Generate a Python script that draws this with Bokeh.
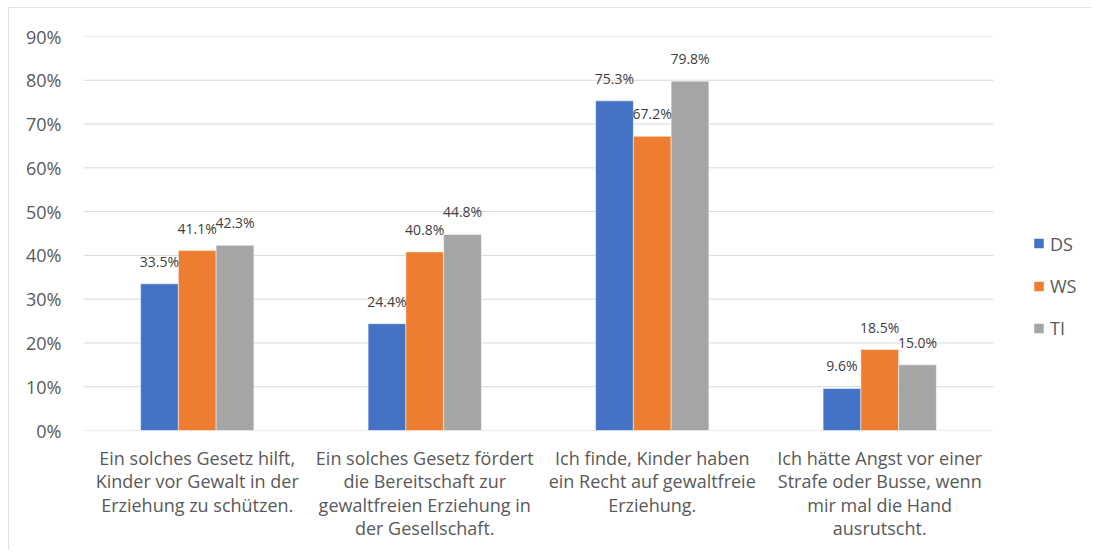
from bokeh.plotting import figure
from bokeh.models import (ColumnDataSource, Range1d, FixedTicker, PrintfTickFormatter, LabelSet)
from bokeh.core.properties import value
from bokeh.embed import file_html
from bokeh.resources import INLINE

categories = [
    "Ein solches Gesetz hilft,\nKinder vor Gewalt in der\nErziehung zu schützen.",
    "Ein solches Gesetz fördert\ndie Bereitschaft zur\ngewaltfreien Erziehung in\nder Gesellschaft.",
    "Ich finde, Kinder haben\nein Recht auf gewaltfreie\nErziehung.",
    "Ich hätte Angst vor einer\nStrafe oder Busse, wenn\nmir mal die Hand\nausrutscht.",
]
series_names = ["DS", "WS", "TI"]
ds = [33.5, 24.4, 75.3, 9.6]
ws = [41.1, 40.8, 67.2, 18.5]
ti = [42.3, 44.8, 79.8, 15.0]
colors = ["#4472C4", "#ED7D31", "#A5A5A5"]
y_ticks = [0, 10, 20, 30, 40, 50, 60, 70, 80, 90]

FONT = "Open Sans"
TXT = "#595959"
n = len(categories)

# layout (pixels)
W, H = 1083, 543
LEFT, TOP, BOTTOM, RIGHT = 75, 29, 120, 5
cat_px = 227.5
frame_w = W - LEFT - RIGHT
x_end = frame_w / cat_px

p = figure(width=W, height=H, output_backend="svg", toolbar_location=None,
           x_range=Range1d(0, x_end), y_range=Range1d(0, 90),
           min_border_left=LEFT, min_border_right=RIGHT, min_border_top=TOP, min_border_bottom=BOTTOM)
p.styles = {"margin-left": "8px", "margin-top": "7px",
            "outline": "1px solid #d9d9d9", "outline-offset": "-1px"}
p.outline_line_color = None
p.xgrid.grid_line_color = None
p.ygrid.grid_line_color = None

# horizontal gridlines limited to the category area
p.segment(x0=[0] * len(y_ticks), x1=[n] * len(y_ticks), y0=y_ticks, y1=y_ticks,
          line_color="#d9d9d9", line_width=1)

bw = 0.166
offsets = [-bw, 0.0, bw]
for name, vals, col, off in zip(series_names, [ds, ws, ti], colors, offsets):
    xs = [i + 0.5 + off for i in range(n)]
    src = ColumnDataSource(dict(x=xs, top=vals, lab=[f"{v:.1f}%" for v in vals]))
    p.vbar(x="x", top="top", width=bw, source=src, fill_color=col, line_color="white", line_width=0.5)
    p.add_layout(LabelSet(x="x", y="top", text="lab", source=src, text_align="center",
                          text_baseline="bottom", y_offset=13, text_font=value(FONT),
                          text_font_size="14px", text_color="#404040"))

# legend (drawn to the right of the categories)
leg_x = n + 0.2
leg_y = [42.7, 32.9, 23.3]
p.scatter(x=[leg_x] * 3, y=leg_y, marker="square", size=9.5, fill_color=colors, line_color=None)
p.text(x=[leg_x] * 3, y=leg_y, text=series_names, x_offset=11, text_baseline="middle",
       text_align="left", text_font=value(FONT), text_font_size="18px", text_color=TXT)

p.yaxis.ticker = FixedTicker(ticks=y_ticks)
p.yaxis.formatter = PrintfTickFormatter(format="%d%%")
p.yaxis.axis_line_color = None
p.yaxis.major_tick_line_color = None
p.yaxis.minor_tick_line_color = None
p.yaxis.major_label_standoff = 16
p.yaxis.major_label_text_font = FONT
p.yaxis.major_label_text_font_size = "18px"
p.yaxis.major_label_text_color = TXT

p.xaxis.ticker = FixedTicker(ticks=[i + 0.5 for i in range(n)])
p.xaxis.major_label_overrides = {i + 0.5: c for i, c in enumerate(categories)}
p.xaxis.axis_line_color = None
p.xaxis.major_tick_line_color = None
p.xaxis.minor_tick_line_color = None
p.xaxis.major_label_standoff = 9
p.xaxis.major_label_text_font = FONT
p.xaxis.major_label_text_font_size = "18px"
p.xaxis.major_label_text_color = TXT
p.xaxis.major_label_text_line_height = 0.98

open("out.html", "w").write(file_html(p, INLINE))
